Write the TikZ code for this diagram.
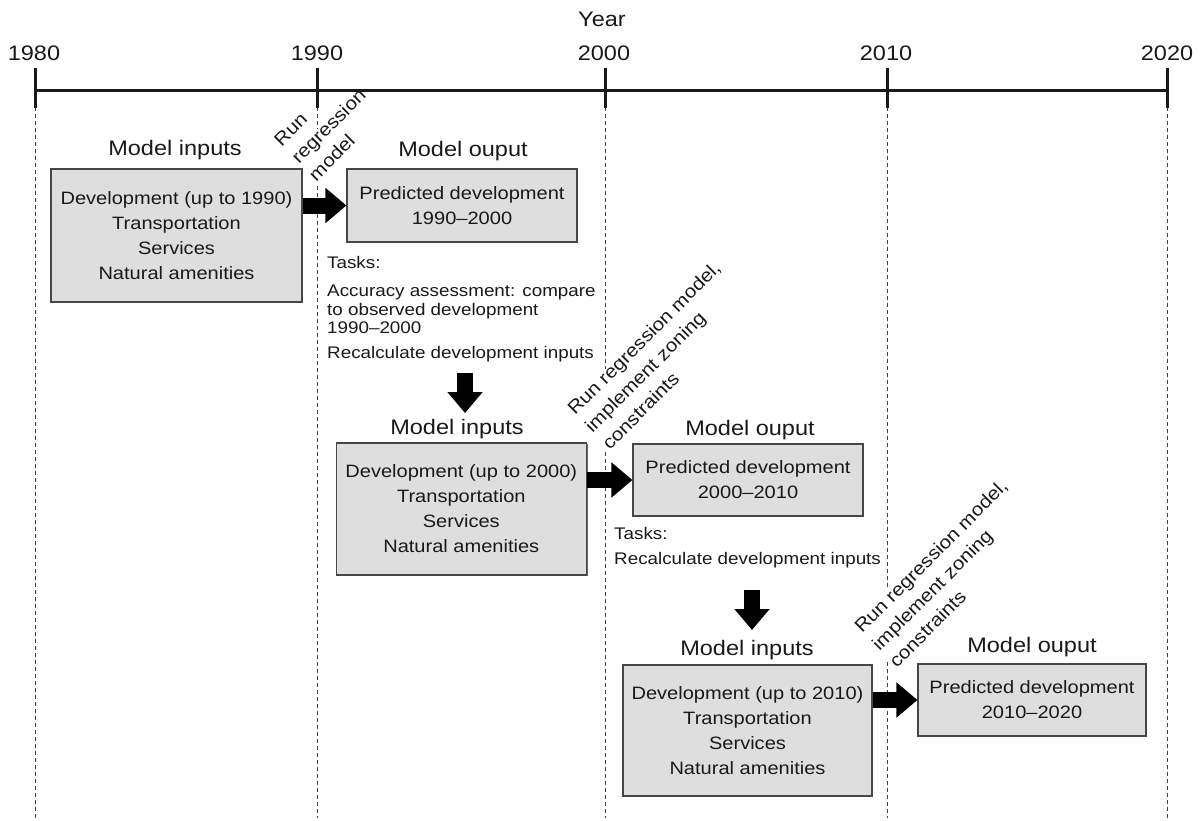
\documentclass[tikz,border=0pt]{standalone}
\usepackage{fontspec}
\setmainfont{Liberation Sans}[FakeStretch=1.12]
\usetikzlibrary{arrows.meta,shadows}
\newcommand\boxfnt{\fontsize{17.9}{25}\selectfont}
\newcommand\labfnt{\fontsize{21}{25}\selectfont}
\newcommand\taskfnt{\fontsize{16.8}{20}\selectfont}
\newcommand\rotfnt{\fontsize{18.4}{24.5}\selectfont}
\tikzset{
  boxnode/.style={draw=black!72, line width=1.1pt, fill=black!13, inner sep=0pt,
    align=center, font=\boxfnt, text=black!90,
    drop shadow={shadow xshift=1.3pt, shadow yshift=-1.3pt, fill=black!60, opacity=1}},
  labnode/.style={inner sep=0pt, font=\labfnt, text=black!90},
  yearlab/.style={inner sep=0pt, font=\labfnt, text=black!90},
  tasknode/.style={inner sep=0pt, font=\taskfnt, text=black!90},
  rotnode/.style={inner sep=0pt, rotate=45, align=left, font=\rotfnt, text=black!90},
  dashline/.style={draw=black!75, line width=1pt, dash pattern=on 4pt off 3pt},
  axisline/.style={line width=3pt, black!90},
  blockarrow/.style={line width=16pt, black, -{Triangle[length=21pt,width=34pt]}}
}
\begin{document}
\begin{tikzpicture}[x=1pt,y=-1pt]
\useasboundingbox (0,0) rectangle (1200,820);
% vertical dashed guides
\draw[dashline] (35,107) -- (35,818);
\draw[dashline] (317,107) -- (317,129);
\draw[dashline] (317,186) -- (317,818);
\draw[dashline] (605,107) -- (605,369);
\draw[dashline] (605,452) -- (605,818);
\draw[dashline] (887,107) -- (887,588);
\draw[dashline] (887,662) -- (887,818);
\draw[dashline] (1167,107) -- (1167,818);
% time axis
\draw[axisline] (35,90) -- (1167,90);
\foreach \x in {35,317,605,887,1167} \draw[axisline] (\x,68) -- (\x,108);
\node[yearlab, anchor=base] (yr) at (602,26) {Year};
\node[yearlab, anchor=base] (l1980) at (34,60) {1980};
\node[yearlab, anchor=base] (l1990) at (317,60) {1990};
\node[yearlab, anchor=base] (l2000) at (604,60) {2000};
\node[yearlab, anchor=base] (l2010) at (886,60) {2010};
\node[yearlab, anchor=base] (l2020) at (1167,60) {2020};
% boxes
\node[boxnode, minimum width=251pt, minimum height=133pt] (in1) at (176.5,235.5)
  {Development (up to 1990)\\Transportation\\Services\\Natural amenities};
\node[boxnode, minimum width=230pt, minimum height=73pt] (out1) at (462,205.5)
  {Predicted development\\1990--2000};
\node[boxnode, minimum width=250pt, minimum height=132pt] (in2) at (461.3,509)
  {Development (up to 2000)\\Transportation\\Services\\Natural amenities};
\node[boxnode, minimum width=230pt, minimum height=72pt] (out2) at (748,480)
  {Predicted development\\2000--2010};
\node[boxnode, minimum width=249pt, minimum height=131pt] (in3) at (747.5,730.5)
  {Development (up to 2010)\\Transportation\\Services\\Natural amenities};
\node[boxnode, minimum width=228pt, minimum height=72pt] (out3) at (1032,700)
  {Predicted development\\2010--2020};
% box titles
\node[labnode, anchor=base] (lin1) at (175,155) {Model inputs};
\node[labnode, anchor=base] (lout1) at (463,156) {Model ouput};
\node[labnode, anchor=base] (lin2) at (457,434) {Model inputs};
\node[labnode, anchor=base] (lout2) at (750,435) {Model ouput};
\node[labnode, anchor=base] (lin3) at (747,655) {Model inputs};
\node[labnode, anchor=base] (lout3) at (1032,652) {Model ouput};
% rotated step labels
\node[rotnode, anchor=north west] (r1) at (272.5,138.5) {Run\\regression\\model};
\node[rotnode, anchor=north west] (r2) at (565.5,406.5) {Run regression model,\\implement zoning\\constraints};
\node[rotnode, anchor=north west] (r3) at (852.5,624.5) {Run regression model,\\implement zoning\\constraints};
% tasks
\node[tasknode, anchor=base west] (ta1) at (327,268) {Tasks:};
\node[tasknode, anchor=base west] (ta2) at (327,296) {Accuracy assessment: compare};
\node[tasknode, anchor=base west] (ta3) at (327,315) {to observed development};
\node[tasknode, anchor=base west] (ta4) at (327,333) {1990--2000};
\node[tasknode, anchor=base west] (ta5) at (327,358) {Recalculate development inputs};
\node[tasknode, anchor=base west] (tb1) at (614,539) {Tasks:};
\node[tasknode, anchor=base west] (tb2) at (614,564) {Recalculate development inputs};
% block arrows
\draw[blockarrow] (in1.east |- out1.west) -- (out1.west);
\draw[blockarrow] (in2.east |- out2.west) -- (out2.west);
\draw[blockarrow] (in3.east |- out3.west) -- (out3.west);
\coordinate (d1s) at (465,373);
\coordinate (d1e) at (465,413);
\coordinate (d2s) at (752,590);
\coordinate (d2e) at (752,630);
\draw[blockarrow] (d1s) -- (d1e);
\draw[blockarrow] (d2s) -- (d2e);
\end{tikzpicture}
\end{document}
